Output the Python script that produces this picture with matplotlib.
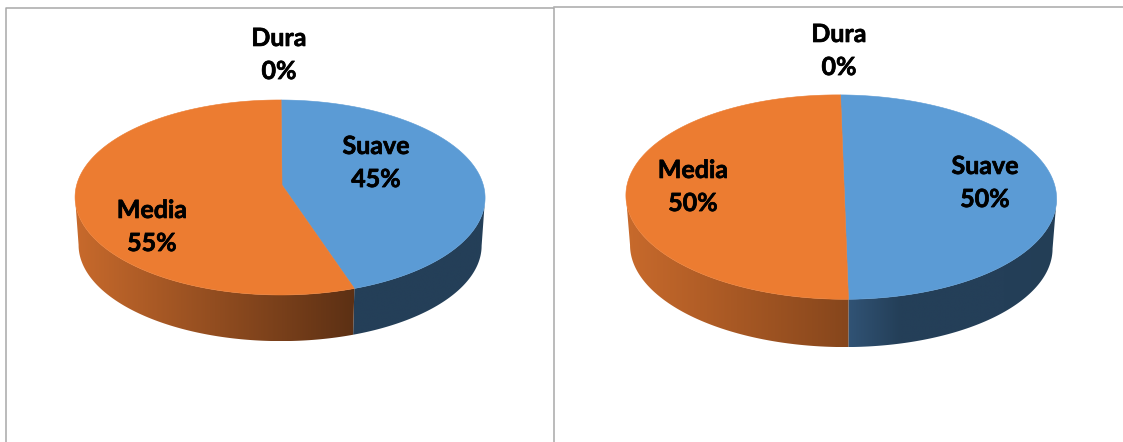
"""Two 3D-style pies of hardness shares (Suave / Media / Dura)."""

import matplotlib
matplotlib.use("Agg")
import matplotlib.pyplot as plt
import matplotlib.colors as mcolors
import matplotlib.patheffects as pe
from matplotlib.patches import PathPatch, Polygon
from matplotlib.path import Path
import numpy as np

CATEGORIES = ["Suave", "Media", "Dura"]
VALUES_LEFT = [45, 55, 0]
VALUES_RIGHT = [50, 50, 0]

BLUE = "#5B9BD5"
ORANGE = "#EC7C31"
FRAME = "#A8A8A8"

# label centres in pixels, one per category
LABELS_LEFT = [(376, 163), (152, 227), (279, 55)]
LABELS_RIGHT = [(985, 183), (693, 187), (839, 51)]

# side wall gradients, left to right
SIDES_LEFT = [["#243F58", "#243F58"], ["#C86A2C", "#5C3014"]]
SIDES_RIGHT = [["#315375", "#243F58", "#243F58", "#243F58", "#233E56"], ["#C86A2C", "#86461C"]]

PERSPECTIVE = 0.128

plt.rcParams["font.family"] = ["Lato", "DejaVu Sans"]


def project(theta, view, drop=0.0, shrink=1.0):
    """Map clock angles (radians, 0 at the top) of the disc rim to pixels."""
    u, v = np.sin(theta), np.cos(theta)
    w = 1 + PERSPECTIVE * v + view["lean"] * u
    x = view["cx"] + shrink * (view["a"] * u + view["skew"] * v) / w
    y = view["cy"] - shrink * view["b"] * v / w + drop
    return x, y


def gradient_fill(ax, verts, ramp):
    """Fill a polygon with a horizontal colour ramp."""
    xmin, xmax = verts[:, 0].min(), verts[:, 0].max()
    ymin, ymax = verts[:, 1].min(), verts[:, 1].max()
    cmap = mcolors.LinearSegmentedColormap.from_list("side", ramp)
    im = ax.imshow(np.linspace(0, 1, 256).reshape(1, -1), cmap=cmap, aspect="auto",
                   extent=(xmin, xmax, ymax, ymin), zorder=2, interpolation="bilinear")
    clip = PathPatch(Path(np.vstack([verts, verts[0]]), closed=True),
                     transform=ax.transData, facecolor="none", edgecolor="none")
    ax.add_patch(clip)
    im.set_clip_path(clip)


def draw_pie(ax, values, labels, sides, view):
    total = sum(values)
    colors = [BLUE, ORANGE]

    # the wall only shows between the rim's rightmost and leftmost points
    rim = np.linspace(0, 2 * np.pi, 1441)
    rim_x = project(rim, view)[0]
    front_start, front_end = rim[np.argmax(rim_x)], rim[np.argmin(rim_x)]

    start = 0.0
    for i, val in enumerate(values):
        if val == 0:
            continue
        end = start + val / total * 2 * np.pi
        theta = np.linspace(start, end, 240)
        x, y = project(theta, view)

        lo, hi = max(start, front_start), min(end, front_end)
        if hi > lo:
            front = np.linspace(lo, hi, 240)
            tx, ty = project(front, view)
            bx, by = project(front, view, drop=view["depth"], shrink=view["shrink"])
            wall = np.column_stack([np.r_[tx, bx[::-1]], np.r_[ty, by[::-1]]])
            gradient_fill(ax, wall, sides[i])

        # top face goes back through the pie's centre point
        face = np.column_stack([np.r_[view["cx"], x], np.r_[view["cy"], y]])
        ax.add_patch(Polygon(face, closed=True, facecolor=colors[i], edgecolor=colors[i],
                             linewidth=0.4, zorder=3))
        start = end

    for name, val, (lx, ly) in zip(CATEGORIES, values, labels):
        ax.text(lx, ly, f"{name}\n{val}%", ha="center", va="center", fontsize=18,
                fontweight="bold", color="black", linespacing=1.53, zorder=5,
                path_effects=[pe.withStroke(linewidth=0.5, foreground="black")])


fig = plt.figure(figsize=(11.23, 4.42), dpi=100, facecolor="white")
ax = fig.add_axes([0, 0, 1, 1])
ax.set_xlim(0, 1123)
ax.set_ylim(442, 0)
ax.axis("off")

# chart frames
ax.plot([6, 6, 554, 554], [442, 7.5, 7.5, 442], color=FRAME, lw=1.1, zorder=1)
ax.plot([554, 1123], [6.5, 6.5], color=FRAME, lw=1.1, zorder=1)

draw_pie(ax, VALUES_LEFT, LABELS_LEFT, SIDES_LEFT,
         dict(cx=282, cy=185, a=203.3, b=95.9, skew=-1.0, lean=0.01, depth=48, shrink=0.983))
draw_pie(ax, VALUES_RIGHT, LABELS_RIGHT, SIDES_RIGHT,
         dict(cx=844, cy=184, a=213.5, b=100.5, skew=-3.9, lean=0.015, depth=50, shrink=0.981))

ax.set_xlim(0, 1123)
ax.set_ylim(442, 0)
fig.savefig("out.png", dpi=100, facecolor="white")
